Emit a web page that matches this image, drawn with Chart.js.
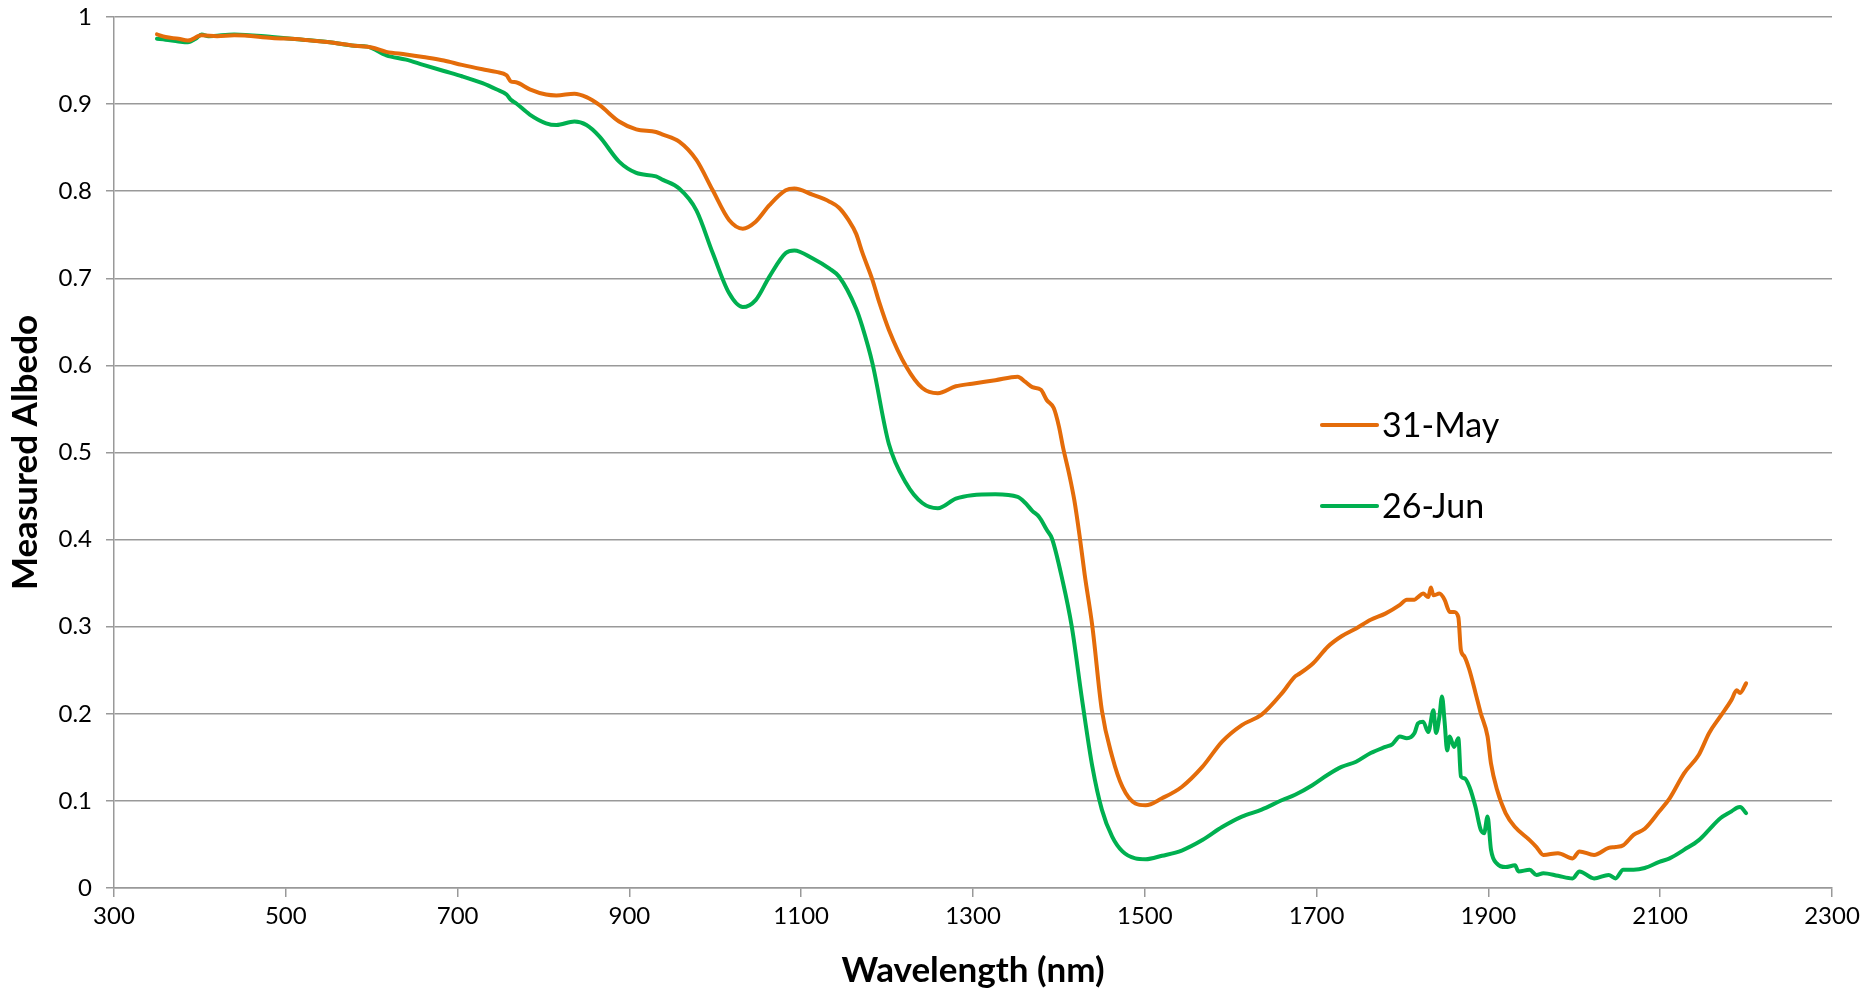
<!DOCTYPE html>
<html>
<head>
<meta charset="utf-8">
<script src="https://cdn.jsdelivr.net/npm/chart.js@4/dist/chart.umd.min.js"></script>
<style>
  html, body { margin: 0; padding: 0; background: #ffffff; }
  #wrap { width: 1866px; height: 988px; position: relative; }
</style>
</head>
<body>
<div id="wrap"><canvas id="c" width="1866" height="988"></canvas></div>
<script>
// ---- Data ----
const seriesNames = ['31-May', '26-Jun'];

const mayWavelength = [350,360,375,386,402,420,440,484,520,551,580,600,617,640,660,684,705,729,745,757,762,768,784,803,815,836,850,865,888,908,931,939,958,978,997,1016,1032,1047,1063,1082,1092,1113,1133,1144,1155,1164,1171,1183,1191,1202,1222,1241,1259,1280,1299,1326,1352,1361,1369,1379,1386,1394,1400,1405,1412,1418,1424,1430,1439,1450,1462,1474,1489,1501,1520,1543,1567,1590,1613,1636,1660,1675,1680,1696,1713,1729,1746,1763,1780,1797,1805,1814,1818,1824,1830,1833,1836,1843,1849,1855,1860,1865,1868,1872,1878,1885,1891,1899,1903,1910,1920,1931,1948,1956,1964,1981,1998,2006,2023,2040,2048,2057,2069,2082,2099,2111,2128,2145,2157,2170,2183,2189,2193,2200];
const mayAlbedo = [0.980,0.977,0.975,0.973,0.979,0.978,0.979,0.976,0.974,0.971,0.967,0.965,0.960,0.957,0.954,0.950,0.945,0.940,0.937,0.933,0.926,0.925,0.917,0.911,0.910,0.912,0.908,0.899,0.880,0.871,0.868,0.865,0.857,0.836,0.801,0.767,0.757,0.765,0.784,0.801,0.803,0.796,0.788,0.781,0.767,0.751,0.730,0.698,0.672,0.641,0.599,0.574,0.568,0.576,0.579,0.583,0.587,0.581,0.575,0.572,0.560,0.551,0.530,0.505,0.475,0.445,0.405,0.360,0.300,0.204,0.151,0.116,0.097,0.095,0.103,0.116,0.139,0.168,0.187,0.199,0.224,0.243,0.246,0.258,0.277,0.289,0.298,0.308,0.315,0.325,0.331,0.331,0.334,0.338,0.334,0.345,0.336,0.338,0.331,0.317,0.317,0.311,0.273,0.266,0.250,0.224,0.201,0.174,0.143,0.113,0.086,0.070,0.055,0.047,0.038,0.040,0.034,0.042,0.038,0.046,0.047,0.049,0.061,0.068,0.088,0.103,0.132,0.153,0.178,0.197,0.216,0.227,0.224,0.235];

const junWavelength = [350,360,375,386,395,402,410,440,484,520,551,580,595,617,640,660,684,705,729,745,757,762,768,784,803,815,836,850,865,888,908,931,939,958,978,997,1016,1032,1047,1063,1082,1092,1113,1133,1144,1164,1171,1183,1202,1222,1241,1259,1280,1299,1326,1352,1361,1369,1377,1386,1392,1404,1415,1427,1439,1450,1462,1474,1489,1501,1520,1543,1567,1590,1613,1636,1660,1675,1695,1713,1729,1746,1763,1780,1788,1797,1805,1814,1818,1824,1830,1836,1839,1843,1846,1849,1852,1855,1860,1865,1868,1872,1878,1885,1891,1895,1899,1903,1910,1920,1931,1935,1948,1956,1964,1981,1998,2006,2023,2040,2048,2057,2069,2082,2099,2111,2128,2145,2157,2170,2183,2189,2193,2200];
const junAlbedo = [0.975,0.974,0.972,0.971,0.975,0.980,0.978,0.980,0.977,0.974,0.971,0.967,0.966,0.956,0.951,0.945,0.938,0.932,0.924,0.917,0.911,0.905,0.901,0.888,0.878,0.876,0.880,0.876,0.863,0.834,0.821,0.817,0.813,0.803,0.778,0.729,0.683,0.667,0.675,0.702,0.729,0.732,0.723,0.711,0.702,0.665,0.645,0.602,0.510,0.465,0.442,0.436,0.447,0.451,0.452,0.449,0.442,0.433,0.426,0.411,0.401,0.354,0.300,0.216,0.139,0.090,0.059,0.042,0.034,0.033,0.037,0.043,0.055,0.070,0.082,0.090,0.101,0.107,0.118,0.130,0.139,0.145,0.155,0.162,0.165,0.174,0.172,0.178,0.189,0.191,0.179,0.204,0.178,0.197,0.220,0.191,0.158,0.174,0.162,0.172,0.128,0.126,0.116,0.093,0.067,0.063,0.082,0.044,0.028,0.024,0.026,0.019,0.021,0.015,0.017,0.014,0.011,0.019,0.011,0.015,0.011,0.021,0.021,0.023,0.030,0.034,0.044,0.055,0.067,0.080,0.088,0.092,0.093,0.086];

const xTickLabels = ['300','500','700','900','1100','1300','1500','1700','1900','2100','2300'];
const yTickLabels = ['0','0.1','0.2','0.3','0.4','0.5','0.6','0.7','0.8','0.9','1'];
const xTitle = 'Wavelength (nm)';
const yTitle = 'Measured Albedo';

// ---- Styles ----
const colors = ['#E46C0A', '#00B050'];
const FONT = 'Lato, Calibri, "Open Sans", sans-serif';
const GRID = '#999999';

function toPoints(xs, ys) { return xs.map((x, i) => ({ x: x, y: ys[i] })); }

const inlineLegend = {
  id: 'inlineLegend',
  afterDraw(chart) {
    const ctx = chart.ctx, a = chart.chartArea;
    const w = a.right - a.left, h = a.bottom - a.top;
    const x0 = a.left + w * 0.7031, x1 = a.left + w * 0.7352;
    const ys = [a.top + h * 0.4684, a.top + h * 0.5614];
    ctx.save();
    ctx.font = '34px ' + FONT;
    ctx.textBaseline = 'middle';
    ctx.textAlign = 'left';
    chart.data.datasets.forEach((ds, i) => {
      ctx.strokeStyle = ds.borderColor;
      ctx.lineWidth = 4;
      ctx.lineCap = 'round';
      ctx.beginPath();
      ctx.moveTo(x0, ys[i]);
      ctx.lineTo(x1, ys[i]);
      ctx.stroke();
      ctx.fillStyle = '#000000';
      ctx.fillText(ds.label, x1 + 5, ys[i] + 1);
    });
    ctx.restore();
  }
};

new Chart(document.getElementById('c'), {
  type: 'line',
  data: {
    datasets: [
      { label: seriesNames[0], data: toPoints(mayWavelength, mayAlbedo), borderColor: colors[0], backgroundColor: colors[0] },
      { label: seriesNames[1], data: toPoints(junWavelength, junAlbedo), borderColor: colors[1], backgroundColor: colors[1] }
    ]
  },
  options: {
    responsive: false,
    animation: false,
    parsing: false,
    layout: { padding: { left: 0, top: 17, right: 34, bottom: 0 } },
    elements: {
      point: { radius: 0 },
      line: { borderWidth: 4, cubicInterpolationMode: 'monotone', borderCapStyle: 'round', borderJoinStyle: 'round' }
    },
    plugins: { legend: { display: false }, tooltip: { enabled: false } },
    scales: {
      x: {
        type: 'linear', min: 300, max: 2300,
        afterFit(s) { s.height = 100; s.paddingLeft = 0; s.paddingRight = 0; },
        ticks: {
          stepSize: 200, color: '#000', padding: 5,
          font: { family: FONT, size: 24 },
          maxRotation: 0,
          callback(v) { const i = Math.round((v - 300) / 200); return xTickLabels[i]; }
        },
        grid: { drawOnChartArea: false, drawTicks: true, tickLength: 9, color: GRID, lineWidth: 1.5 },
        border: { display: true, color: GRID, width: 1.5 },
        title: { display: true, text: xTitle, color: '#000', padding: 0, font: { family: FONT, size: 35, weight: 'bold', lineHeight: 1.0 } }
      },
      y: {
        type: 'linear', min: 0, max: 1,
        afterFit(s) { s.width = 114; s.paddingTop = 0; s.paddingBottom = 0; },
        ticks: {
          stepSize: 0.1, color: '#000', padding: 14,
          font: { family: FONT, size: 24 },
          callback(v) { return yTickLabels[Math.round(v * 10)]; }
        },
        grid: { drawOnChartArea: true, drawTicks: true, tickLength: 8, color: GRID, lineWidth: 1.5 },
        border: { display: true, color: GRID, width: 1.5 },
        title: { display: true, text: yTitle, color: '#000', padding: { top: 5, bottom: 0 }, font: { family: FONT, size: 35, weight: 'bold' } }
      }
    }
  },
  plugins: [inlineLegend]
});
</script>
</body>
</html>
